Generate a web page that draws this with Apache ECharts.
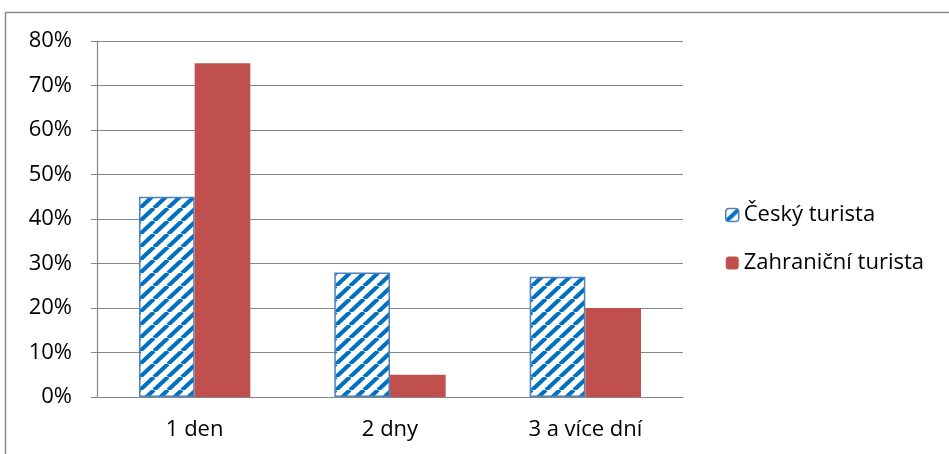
<!DOCTYPE html>
<html><head><meta charset="utf-8">
<script src="https://cdn.jsdelivr.net/npm/echarts@6/dist/echarts.min.js"></script>
<style>html,body{margin:0;padding:0;background:#fff}#c{width:949px;height:454px}</style>
</head><body><div id="c"></div>
<script>
const categories = ['1 den', '2 dny', '3 a více dní'];
const ceskyTurista = [45, 28, 27];
const zahranicniTurista = [75, 5, 20];
const yTicks = [0, 10, 20, 30, 40, 50, 60, 70, 80];

function stripes() {
  const w = 14, h = 13;
  const c = document.createElement('canvas');
  c.width = w; c.height = h;
  const g = c.getContext('2d');
  g.fillStyle = '#fff'; g.fillRect(0, 0, w, h);
  g.strokeStyle = '#0070C0'; g.lineWidth = 4.2;
  g.beginPath();
  for (let k = -1; k <= 1; k++) {
    g.moveTo(k * w, h); g.lineTo(k * w + w, 0);
  }
  g.stroke();
  return c;
}
const pat = { image: stripes(), repeat: 'repeat' };
const FONT = 'Open Sans';

const chart = echarts.init(document.getElementById('c'));
chart.setOption({
  animation: false,
  textStyle: { fontFamily: FONT },
  graphic: [{ type: 'rect', shape: { x: 5.5, y: 12.5, width: 1200, height: 1000 }, style: { fill: 'none', stroke: '#8a8a8a', lineWidth: 1.5 }, z: 0 }],
  grid: { left: 97, right: 266, top: 41, bottom: 57 },
  legend: {
    orient: 'vertical', left: 720, top: 199, itemGap: 26, itemWidth: 13, itemHeight: 13,
    textStyle: { fontSize: 22, color: '#000', fontFamily: FONT },
    data: [
      { name: 'Český turista', itemStyle: { color: pat, borderColor: '#4F81BD', borderWidth: 1.5 } },
      { name: 'Zahraniční turista' }
    ]
  },
  xAxis: {
    type: 'category', data: categories,
    axisLine: { lineStyle: { color: '#868686', width: 1.2 } },
    axisTick: { length: 6, lineStyle: { color: '#868686' } },
    axisLabel: { fontSize: 22, color: '#000', margin: 22 }
  },
  yAxis: {
    type: 'value', min: yTicks[0], max: yTicks[yTicks.length - 1], interval: 10,
    axisLine: { show: true, lineStyle: { color: '#868686', width: 1.2 } },
    axisTick: { show: true, length: 6, lineStyle: { color: '#868686' } },
    splitLine: { lineStyle: { color: '#868686', width: 1.2 } },
    axisLabel: { fontSize: 22, color: '#000', margin: 25, formatter: v => v + '%' }
  },
  series: [
    { name: 'Český turista', type: 'bar', data: ceskyTurista, barGap: '0%', barCategoryGap: '43%',
      itemStyle: { color: pat, borderColor: '#4F81BD', borderWidth: 1.5 } },
    { name: 'Zahraniční turista', type: 'bar', data: zahranicniTurista,
      itemStyle: { color: '#C0504D' } }
  ]
});
</script></body></html>
